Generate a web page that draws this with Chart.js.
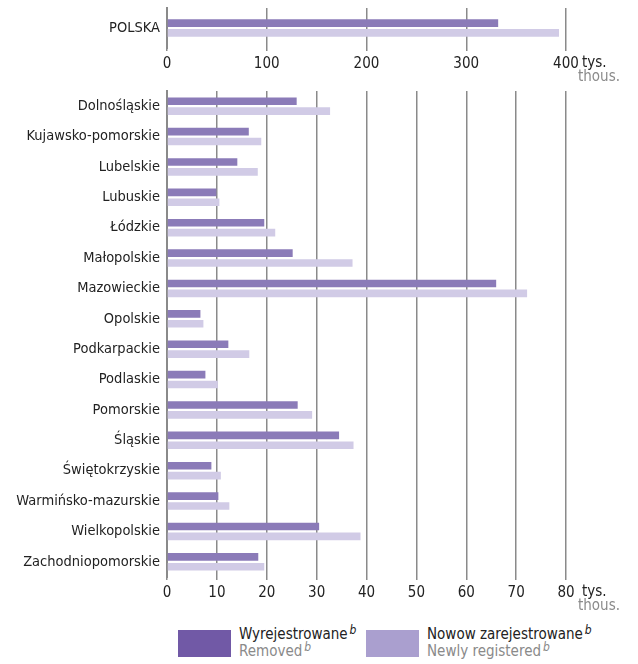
<!DOCTYPE html>
<html>
<head>
<meta charset="utf-8">
<script src="https://cdn.jsdelivr.net/npm/chart.js@4.4.1/dist/chart.umd.min.js"></script>
<style>
  body { margin: 0; background: #fff; font-family: 'Liberation Sans Narrow', 'DejaVu Sans Condensed', 'Roboto', sans-serif; }
  #wrap { position: relative; width: 638px; height: 664px; }
  #top_box { position: absolute; left: 0; top: 0; width: 638px; height: 90px; }
  #main_box { position: absolute; left: 0; top: 80px; width: 638px; height: 540px; }
  .sw { position: absolute; top: 630px; width: 53px; height: 27px; }
  .lg { position: absolute; top: 626px; font-size: 15px; line-height: 17px; color: #222; }
  .lg .en { color: #8a8a8a; }
  .lg i { font-size: 12px; line-height: 0; position: relative; top: -5px; margin-left: 2px; }
</style>
</head>
<body>
<div id="wrap">
  <div id="top_box"><canvas id="topChart"></canvas></div>
  <div id="main_box"><canvas id="mainChart"></canvas></div>

  <div class="sw" style="left:178px; background:#7159a6;"></div>
  <div class="lg" style="left:239px;">Wyrejestrowane<i>b</i><br><span class="en">Removed<i>b</i></span></div>
  <div class="sw" style="left:366px; background:#aa9fcf;"></div>
  <div class="lg" style="left:427px;">Nowow zarejestrowane<i>b</i><br><span class="en">Newly registered<i>b</i></span></div>
</div>

<script>
// data (thousands)
const polskaLabels = ["POLSKA"];
const polskaRemoved = [332];
const polskaNew = [393];
const topTicks = [0, 100, 200, 300, 400];

const regions = ["Dolnośląskie", "Kujawsko-pomorskie", "Lubelskie", "Lubuskie", "Łódzkie",
    "Małopolskie", "Mazowieckie", "Opolskie", "Podkarpackie", "Podlaskie", "Pomorskie",
    "Śląskie", "Świętokrzyskie", "Warmińsko-mazurskie", "Wielkopolskie", "Zachodniopomorskie"];
const removed = [26.0, 16.4, 14.1, 9.9, 19.5, 25.2, 66.0, 6.7, 12.3, 7.7, 26.2, 34.5, 8.9, 10.3, 30.5, 18.3];
const newlyRegistered = [32.7, 18.9, 18.2, 10.5, 21.7, 37.2, 72.2, 7.3, 16.5, 10.2, 29.1, 37.4, 10.8, 12.5, 38.8, 19.5];
const mainTicks = [0, 10, 20, 30, 40, 50, 60, 70, 80];

const FONT = "'Liberation Sans Narrow', 'DejaVu Sans Condensed', 'Roboto', sans-serif";
const darkBar = "#8b7bb8";
const lightBar = "#d1cbe6";
const gridGray = "#8a8a8a";

// "tys." / "thous." next to the last x tick
const unitLabel = {
    id: "unitLabel",
    afterDraw(chart) {
        let ctx = chart.ctx;
        let x = chart.scales.x;
        let y = x.top + chart.options.unitOffset;
        ctx.save();
        ctx.font = "15px " + FONT;
        ctx.textAlign = "left";
        ctx.textBaseline = "middle";
        ctx.fillStyle = "#222";
        ctx.fillText("tys.", x.right + 16, y);
        ctx.fillStyle = "#8a8a8a";
        ctx.fillText("thous.", x.right + 12, y + 14);
        ctx.restore();
    }
};

function makeChart(id, labels, d1, d2, ticks, catPct, padTop, axisH, unitOffset) {
    return new Chart(document.getElementById(id), {
        type: "bar",
        data: {
            labels: labels,
            datasets: [{
                label: "Wyrejestrowane",
                data: d1,
                backgroundColor: darkBar
            }, {
                label: "Nowow zarejestrowane",
                data: d2,
                backgroundColor: lightBar
            }]
        },
        options: {
            indexAxis: "y",
            responsive: true,
            maintainAspectRatio: false,
            animation: false,
            unitOffset: unitOffset,
            layout: { padding: { top: padTop, right: 72, left: 0, bottom: 0 } },
            datasets: { bar: { categoryPercentage: catPct, barPercentage: 0.78 } },
            plugins: { legend: { display: false }, tooltip: { enabled: false } },
            scales: {
                x: {
                    min: ticks[0],
                    max: ticks[ticks.length - 1],
                    afterBuildTicks: function (s) { s.ticks = ticks.map(v => ({ value: v })); },
                    afterFit: function (s) { s.height = axisH; },
                    grid: { color: gridGray, lineWidth: 1.5, drawTicks: true, tickLength: 3 },
                    border: { display: false },
                    ticks: { color: "#222", padding: 4, font: { family: FONT, size: 15 } }
                },
                y: {
                    afterFit: function (s) {
                        s.width = 167;
                        s.paddingTop = 0;
                        s.paddingBottom = 0;
                    },
                    grid: { display: false, drawTicks: false },
                    border: { display: true, color: gridGray, width: 2 },
                    ticks: { color: "#222", padding: 7, font: { family: FONT, size: 14.5 } }
                }
            }
        },
        plugins: [unitLabel]
    });
}

// top chart: 90px canvas, plot area 8..48
makeChart("topChart", polskaLabels, polskaRemoved, polskaNew, topTicks, 0.49, 8, 42, 15);
// main chart: starts at 80px, plot area 91..577
makeChart("mainChart", regions, removed, newlyRegistered, mainTicks, 0.645, 11, 43, 15);
</script>
</body>
</html>
